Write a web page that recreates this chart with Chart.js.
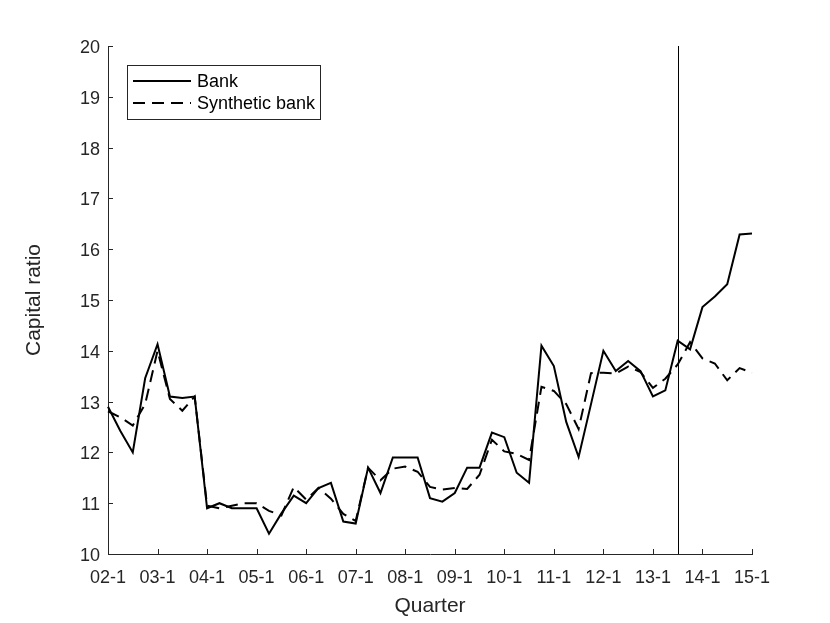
<!DOCTYPE html>
<html>
<head>
<meta charset="utf-8">
<style>
  html, body { margin: 0; padding: 0; background: #fff; }
</style>
<script src="https://cdn.jsdelivr.net/npm/chart.js@4/dist/chart.umd.min.js"></script>
</head>
<body>
<canvas id="capChart" width="830" height="623"></canvas>
<script>
// quarters, 2002Q1 .. 2015Q1
const quarters = [
  '02-1', '02-2', '02-3', '02-4', '03-1', '03-2', '03-3', '03-4',
  '04-1', '04-2', '04-3', '04-4', '05-1', '05-2', '05-3', '05-4',
  '06-1', '06-2', '06-3', '06-4', '07-1', '07-2', '07-3', '07-4',
  '08-1', '08-2', '08-3', '08-4', '09-1', '09-2', '09-3', '09-4',
  '10-1', '10-2', '10-3', '10-4', '11-1', '11-2', '11-3', '11-4',
  '12-1', '12-2', '12-3', '12-4', '13-1', '13-2', '13-3', '13-4',
  '14-1', '14-2', '14-3', '14-4', '15-1'
];

const bankRatio = [
  12.9, 12.42, 12.0, 13.46, 14.13, 13.1, 13.07, 13.1,
  10.9, 11.0, 10.9, 10.9, 10.9, 10.4, 10.8, 11.15,
  11.0, 11.3, 11.4, 10.64, 10.6, 11.7, 11.2, 11.9,
  11.9, 11.9, 11.1, 11.03, 11.2, 11.7, 11.7, 12.39,
  12.3, 11.6, 11.4, 14.1, 13.7, 12.6, 11.91, 12.95,
  14.0, 13.6, 13.8, 13.6, 13.1, 13.22, 14.2, 14.03,
  14.86, 15.07, 15.31, 16.29, 16.31
];

const syntheticRatio = [
  12.81, 12.69, 12.53, 12.95, 14.0, 13.05, 12.82, 13.1,
  10.95, 10.9, 10.95, 11.0, 11.0, 10.85, 10.76, 11.32,
  11.07, 11.3, 11.09, 10.79, 10.65, 11.7, 11.45, 11.68,
  11.72, 11.62, 11.32, 11.27, 11.3, 11.28, 11.56, 12.25,
  12.02, 11.97, 11.85, 13.29, 13.21, 12.95, 12.46, 13.56,
  13.57, 13.55, 13.69, 13.58, 13.27, 13.45, 13.73, 14.17,
  13.85, 13.75, 13.42, 13.66, 13.57
];

const yTicks = [10, 11, 12, 13, 14, 15, 16, 17, 18, 19, 20];
const treatmentQuarter = '13-3';

Chart.defaults.font.family = '"Liberation Sans", Arial, sans-serif';
Chart.defaults.font.size = 18;
Chart.defaults.color = '#262626';

const axisGrey = '#262626';

// inward ticks, the vertical marker and the boxed legend
const decor = {
  id: 'decor',
  beforeDatasetsDraw(chart) {
    const { ctx, chartArea, scales: { x } } = chart;
    const vx = Math.round(x.getPixelForValue(quarters.indexOf(treatmentQuarter))) + 0.5;
    ctx.save();
    ctx.strokeStyle = '#000';
    ctx.lineWidth = 1;
    ctx.beginPath();
    ctx.moveTo(vx, chartArea.top);
    ctx.lineTo(vx, chartArea.bottom);
    ctx.stroke();
    ctx.restore();
  },
  afterDraw(chart) {
    const { ctx, chartArea, scales: { x, y } } = chart;
    ctx.save();
    ctx.strokeStyle = axisGrey;
    ctx.lineWidth = 1;
    ctx.beginPath();
    yTicks.forEach(v => {
      const py = Math.round(y.getPixelForValue(v)) + 0.5;
      ctx.moveTo(chartArea.left, py);
      ctx.lineTo(chartArea.left + 5, py);
    });
    quarters.forEach((q, i) => {
      if (!q.endsWith('-1')) return;
      const px = Math.round(x.getPixelForValue(i)) + 0.5;
      ctx.moveTo(px, chartArea.bottom);
      ctx.lineTo(px, chartArea.bottom - 5);
    });
    ctx.stroke();

    // legend box
    const bx = 127.5, by = 65.5, bw = 193, bh = 54;
    ctx.fillStyle = '#fff';
    ctx.fillRect(bx, by, bw, bh);
    ctx.strokeStyle = axisGrey;
    ctx.strokeRect(bx, by, bw, bh);

    const rows = [81, 103];
    ctx.font = '18px "Liberation Sans", Arial, sans-serif';
    ctx.textBaseline = 'middle';
    ctx.fillStyle = '#000';
    chart.data.datasets.forEach((ds, i) => {
      ctx.strokeStyle = ds.borderColor;
      ctx.lineWidth = ds.borderWidth;
      ctx.setLineDash(ds.borderDash || []);
      ctx.beginPath();
      ctx.moveTo(133, rows[i]);
      ctx.lineTo(191, rows[i]);
      ctx.stroke();
      ctx.setLineDash([]);
      ctx.fillText(ds.label, 197, rows[i] + 1);
    });
    ctx.restore();
  }
};

new Chart(document.getElementById('capChart'), {
  type: 'line',
  data: {
    labels: quarters,
    datasets: [
      {
        label: 'Bank',
        data: bankRatio,
        borderColor: '#000',
        borderWidth: 2,
        pointRadius: 0,
        tension: 0
      },
      {
        label: 'Synthetic bank',
        data: syntheticRatio,
        borderColor: '#000',
        borderWidth: 2,
        borderDash: [12, 7],
        pointRadius: 0,
        tension: 0
      }
    ]
  },
  options: {
    responsive: false,
    animation: false,
    layout: { padding: { top: 46, right: 78, left: 0, bottom: 0 } },
    plugins: {
      legend: { display: false },
      tooltip: { enabled: false }
    },
    scales: {
      x: {
        type: 'category',
        offset: false,
        grid: { display: true, drawOnChartArea: false, drawTicks: false },
        border: { display: true, color: axisGrey, width: 1 },
        ticks: {
          autoSkip: false,
          maxRotation: 0,
          minRotation: 0,
          padding: 13,
          callback: (val, i) => quarters[i].endsWith('-1') ? quarters[i] : null
        },
        title: { display: true, text: 'Quarter', font: { size: 21 }, padding: { top: 0, bottom: 4 } },
        afterFit: s => { s.height = 69; }
      },
      y: {
        min: 10,
        max: 20,
        grid: { display: true, drawOnChartArea: false, drawTicks: false },
        border: { display: true, color: axisGrey, width: 1 },
        ticks: { stepSize: 1, padding: 8, labelOffset: 2 },
        title: { display: true, text: 'Capital ratio', font: { size: 21 }, padding: { top: 22, bottom: 0 } },
        afterFit: s => { s.width = 108; }
      }
    }
  },
  plugins: [decor]
});
</script>
</body>
</html>
